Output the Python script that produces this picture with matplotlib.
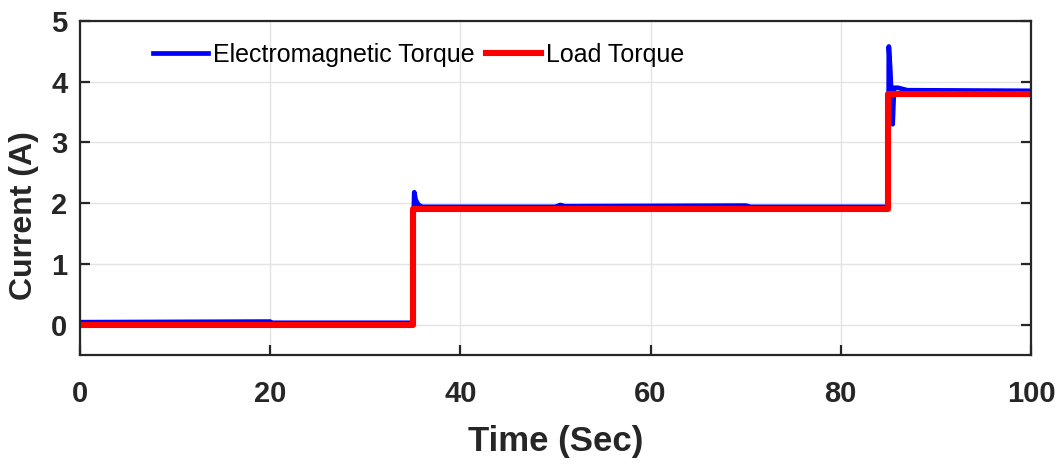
import numpy as np
import matplotlib.pyplot as plt

plt.rcParams['font.family'] = ['Liberation Sans', 'DejaVu Sans']

# electromagnetic torque breakpoints (time in s, value)
te_time = [0, 20, 20.05, 35.0, 35.05, 35.15, 35.3, 35.6, 36.0, 50, 50.5, 51, 70, 70.5,
           85.0, 85.05, 85.2, 85.45, 85.6, 86.0, 87.0, 100]
te_vals = [0.04, 0.05, 0.03, 0.03, 1.6, 2.18, 2.05, 1.97, 1.94, 1.94, 1.97, 1.95, 1.96, 1.94,
           1.94, 4.58, 4.2, 3.3, 3.9, 3.9, 3.86, 3.85]

# load torque steps
tl_time = [0, 35, 35, 85, 85, 100]
tl_vals = [0, 0, 1.9, 1.9, 3.8, 3.8]

fig = plt.figure(figsize=(10.61, 4.65), dpi=100)
ax = fig.add_axes([80 / 1061, 1 - 355 / 465, 951 / 1061, 334 / 465])

ax.plot(te_time, te_vals, color='#0000ff', lw=3.4, label='Electromagnetic Torque')
ax.plot(tl_time, tl_vals, color='#ff0000', lw=4.4, label='Load Torque')

ax.set_xlim(0, 100)
ax.set_ylim(-0.5, 5)
ax.set_xticks([0, 20, 40, 60, 80, 100])
ax.set_yticks([0, 1, 2, 3, 4, 5])
ax.grid(True, color='#e3e3e3', lw=1.0)
ax.tick_params(direction='in', length=7, width=1.6, top=False, right=True,
               labelsize=21, colors='#262626')
ax.tick_params(axis='x', pad=18)
ax.tick_params(axis='y', pad=9)
for lbl in ax.get_xticklabels() + ax.get_yticklabels():
    lbl.set_fontweight('bold')
for sp in ax.spines.values():
    sp.set_linewidth(1.6)
    sp.set_color('#262626')

ax.set_xlabel('Time (Sec)', fontsize=25, fontweight='bold', color='#262626')
ax.set_ylabel('Current (A)', fontsize=23, fontweight='bold', color='#262626')
ax.xaxis.set_label_coords(0.5, -0.21)
ax.yaxis.set_label_coords(-0.043, 0.416)

ax.legend(loc='center left', bbox_to_anchor=((153 - 80) / 951, 0.898), ncol=2,
          frameon=False, fontsize=18, handlelength=2.2, columnspacing=0.45,
          handletextpad=0.2, borderpad=0, borderaxespad=0)

fig.savefig('out.png', dpi=100)
